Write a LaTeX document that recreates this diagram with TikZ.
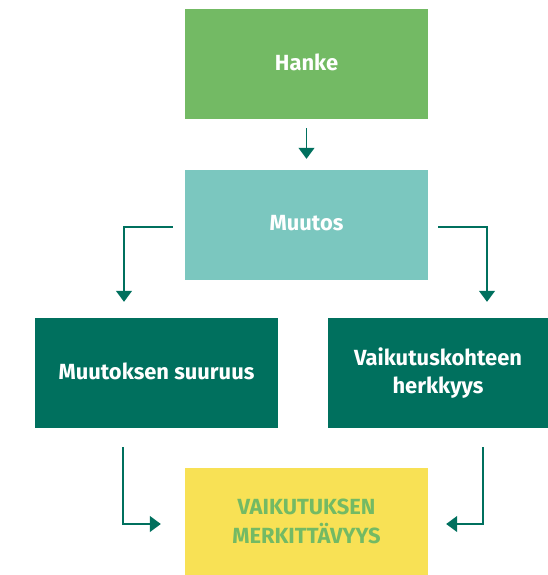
\documentclass[tikz,border=0pt]{standalone}
\usepackage{fontspec}
\setmainfont{Fira Sans}
\usetikzlibrary{arrows.meta}
\definecolor{hankegreen}{HTML}{73BA64}
\definecolor{muutosteal}{HTML}{7BC7BF}
\definecolor{darkteal}{HTML}{00705E}
\definecolor{merkyellow}{HTML}{F8E155}
\newcommand{\uplabel}[1]{\raisebox{4bp}{#1}}
\tikzset{
  box/.style={minimum width=243bp, minimum height=110bp, inner sep=0pt,
    align=center, font=\fontsize{22}{29}\selectfont\bfseries, text=white},
  arr/.style={draw=darkteal, line width=1.2bp,
    -{Triangle[width=16bp,length=11bp]}, darkteal}
}
\begin{document}
\begin{tikzpicture}[x=1bp,y=-1bp]
      \useasboundingbox (0,0) rectangle (548,575);
      \node[box, fill=hankegreen] (hanke) at (306.5,64) {\uplabel{Hanke}};
      \node[box, fill=muutosteal] (muutos) at (306.5,225) {\uplabel{Muutos}};
      \node[box, fill=darkteal] (suuruus) at (156.5,373)
        {\uplabel{Muutoksen suuruus}};
      \node[box, fill=darkteal, minimum width=220bp] (herkkyys) at (438,373)
        {Vaikutuskohteen\\herkkyys};
      \node[box, fill=merkyellow, text=hankegreen, minimum height=107bp] (merk)
        at (306.5,521.5) {VAIKUTUKSEN\\MERKITTÄVYYS};
      % connectors
      \draw[arr] ([yshift=-9bp]hanke.south) -- ([yshift=11bp]muutos.north);
      \draw[arr] ([xshift=-12bp,yshift=-2bp]muutos.west)
        -| ([xshift=-32.5bp,yshift=16bp]suuruus.north);
      \draw[arr] ([xshift=10bp,yshift=-2bp]muutos.east)
        -| ([xshift=49bp,yshift=16bp]herkkyys.north);
      \draw[arr] ([xshift=-33.5bp,yshift=-19bp]suuruus.south)
        |- ([xshift=-24bp,yshift=-2.5bp]merk.west);
      \draw[arr] ([xshift=45bp,yshift=-19bp]herkkyys.south)
        |- ([xshift=18bp,yshift=-2.5bp]merk.east);
\end{tikzpicture}
\end{document}
